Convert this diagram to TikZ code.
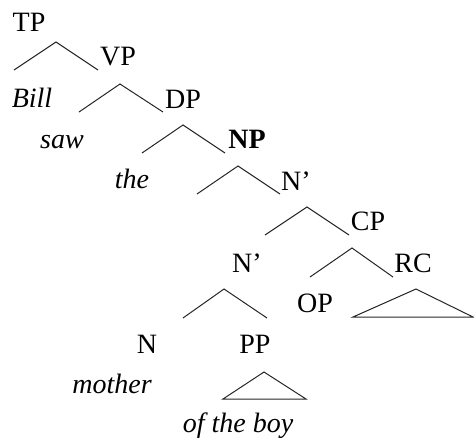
\documentclass[tikz,border=0pt]{standalone}
\usepackage{fontspec}
\setmainfont{Liberation Serif}
\begin{document}
\begin{tikzpicture}[x=1pt,y=-1pt,
  lbl/.style={anchor=base,inner sep=0pt,font=\fontsize{28}{32}\selectfont},
  word/.style={lbl,font=\fontsize{28}{32}\selectfont\itshape},
  br/.style={line width=1pt,draw=black!85}]
\useasboundingbox (0,0) rectangle (474,440);
% labels
\node[lbl] (TP) at (29,31) {TP};
\node[lbl] (VP) at (118,65) {VP};
\node[word] (Bill) at (32,107) {Bill};
\node[lbl] (DP) at (183,108) {DP};
\node[word] (saw) at (62,148) {saw};
\node[word] (the) at (132,188) {the};
\node[lbl,font=\fontsize{28}{32}\selectfont\bfseries] (NP) at (247,148) {NP};
\node[lbl] (Nbar1) at (296,190) {N’};
\node[lbl] (CP) at (368,230) {CP};
\node[lbl] (Nbar2) at (247,272) {N’};
\node[lbl] (RC) at (413,272) {RC};
\node[lbl] (OP) at (315,312) {OP};
\node[lbl] (N) at (147,353) {N};
\node[lbl] (PP) at (255,353) {PP};
\node[word] (mother) at (112,393) {mother};
\node[word] (ofboy) at (238,432) {of the boy};
% branch points
\coordinate (a1) at (56,42);  \coordinate (l1) at (14,70);  \coordinate (r1) at (98,70);
\coordinate (a2) at (120,84); \coordinate (l2) at (79,112); \coordinate (r2) at (163,112);
\coordinate (a3) at (183,125);\coordinate (l3) at (142,153);\coordinate (r3) at (225,153);
\coordinate (a4) at (238,166);\coordinate (l4) at (197,194);\coordinate (r4) at (280,194);
\coordinate (a5) at (307,207);\coordinate (l5) at (265,235);\coordinate (r5) at (349,235);
\coordinate (a6) at (352,248);\coordinate (l6) at (310,277);\coordinate (r6) at (393,277);
\coordinate (a7) at (224,289);\coordinate (l7) at (183,318);\coordinate (r7) at (267,318);
\coordinate (ta) at (264,372);\coordinate (tl) at (223,399);\coordinate (tr) at (306,399);
\coordinate (ua) at (416,289);\coordinate (ul) at (353,317);\coordinate (ur) at (473,317);
\foreach \i in {1,...,7} {\draw[br] (l\i) -- (a\i) -- (r\i);}
\draw[br] (ta) -- (tl) -- (tr) -- cycle;
\draw[br] (ua) -- (ul) -- (ur) -- cycle;
\end{tikzpicture}
\end{document}
